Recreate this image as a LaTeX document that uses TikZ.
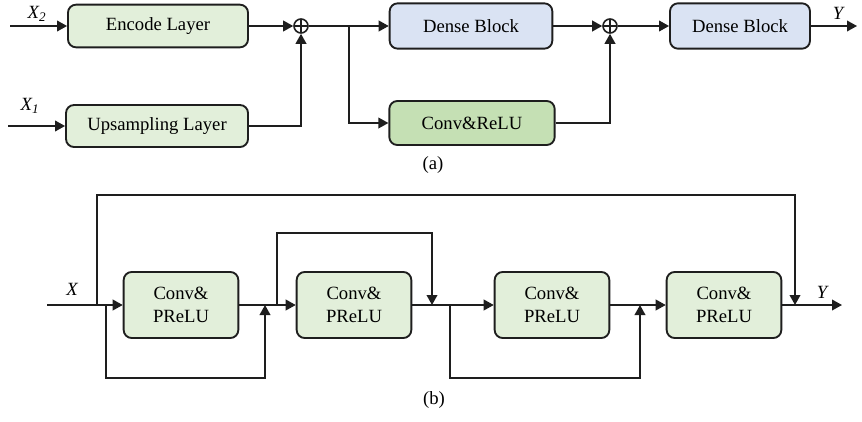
\documentclass[tikz,border=0pt]{standalone}
\usepackage{fontspec}
\setmainfont{Liberation Serif}
\usetikzlibrary{arrows.meta,positioning}
\definecolor{sage}{RGB}{226,239,218}
\definecolor{moss}{RGB}{197,224,180}
\definecolor{mist}{RGB}{218,227,243}
\definecolor{ink}{RGB}{30,30,30}
\tikzset{
  >={Triangle[length=7.5pt,width=8pt]},
  block/.style={draw=ink,fill=#1,rounded corners=6pt,line width=1.4pt,align=center,
    inner sep=0pt,font=\fontsize{14}{17}\selectfont},
  block/.default=sage,
  flow/.style={->,line width=1.2pt,draw=ink},
  sum/.style={circle,draw=ink,line width=1.2pt,minimum size=10.5pt,inner sep=0pt,
    path picture={\draw[ink,line width=1.2pt]
      (path picture bounding box.north) -- (path picture bounding box.south)
      (path picture bounding box.east) -- (path picture bounding box.west);}},
  tag/.style={font=\itshape\fontsize{14}{17}\selectfont,inner sep=0pt},
  caption/.style={font=\fontsize{14}{17}\selectfont,inner sep=0pt},
}
\begin{document}
\begin{tikzpicture}[x=0.75pt,y=-0.75pt]
  \useasboundingbox (0,0) rectangle (862,421);
  % (a)
  \node[block,minimum width=135pt,minimum height=32pt] (enc) at (158,26) {Encode Layer};
  \node[block,minimum width=136.5pt,minimum height=31.5pt] (ups) at (157,126) {Upsampling Layer};
  \node[block=mist,minimum width=122pt,minimum height=34pt] (dn1) at (471,26) {Dense Block};
  \node[block=moss,minimum width=124pt,minimum height=33pt] (cr) at (472,123) {Conv\&ReLU};
  \node[block=mist,minimum width=105pt,minimum height=34pt] (dn2) at (740,26) {Dense Block};
  \node[sum] (p1) at (301,26) {};
  \node[sum] (p2) at (610,26) {};
  \coordinate (x2in) at (10,26);
  \coordinate (x1in) at (8,126);
  \coordinate (fork) at (349,26);
  \coordinate (yout) at (857,26);
  \node[tag] (x2lab) at (37,14) {X\textsubscript{2}};
  \node[tag] (x1lab) at (30,106) {X\textsubscript{1}};
  \node[tag] (ylab) at (838,13) {Y};
  \draw[flow] (x2in) -- (enc);
  \draw[flow] (x1in) -- (ups);
  \draw[flow] (enc) -- (p1);
  \draw[flow] (ups) -| (p1);
  \draw[flow] (p1) -- (dn1);
  \draw[flow] (fork) |- (cr);
  \draw[flow] (dn1) -- (p2);
  \draw[flow] (cr) -| (p2);
  \draw[flow] (p2) -- (dn2);
  \draw[flow] (dn2) -- (yout);
  \node[caption] (capa) at (433,165) {(a)};
  % (b)
  \foreach \i/\x in {1/181,2/354,3/552,4/724}
    \node[block,minimum width=86pt,minimum height=49.5pt] (c\i) at (\x,305) {Conv\&\\PReLU};
  \foreach \n/\x in {xin/47,s0/97,s1/106,j1/265,s2/277,j2/432,s3/450,j3/640,j4/795,yb/842}
    \coordinate (\n) at (\x,305);
  \node[tag] (xlab) at (72,289) {X};
  \node[tag] (yblab) at (822,292) {Y};
  \draw[flow] (xin) -- (c1);
  \draw[flow] (c1) -- (c2);
  \draw[flow] (c2) -- (c3);
  \draw[flow] (c3) -- (c4);
  \draw[flow] (c4) -- (yb);
  \draw[flow] (s0) -- ++(0,-110) -| (j4);
  \draw[flow] (s1) -- ++(0,73) -| (j1);
  \draw[flow] (s2) -- ++(0,-72) -| (j2);
  \draw[flow] (s3) -- ++(0,73) -| (j3);
  \node[caption] (capb) at (434,400) {(b)};
\end{tikzpicture}
\end{document}
